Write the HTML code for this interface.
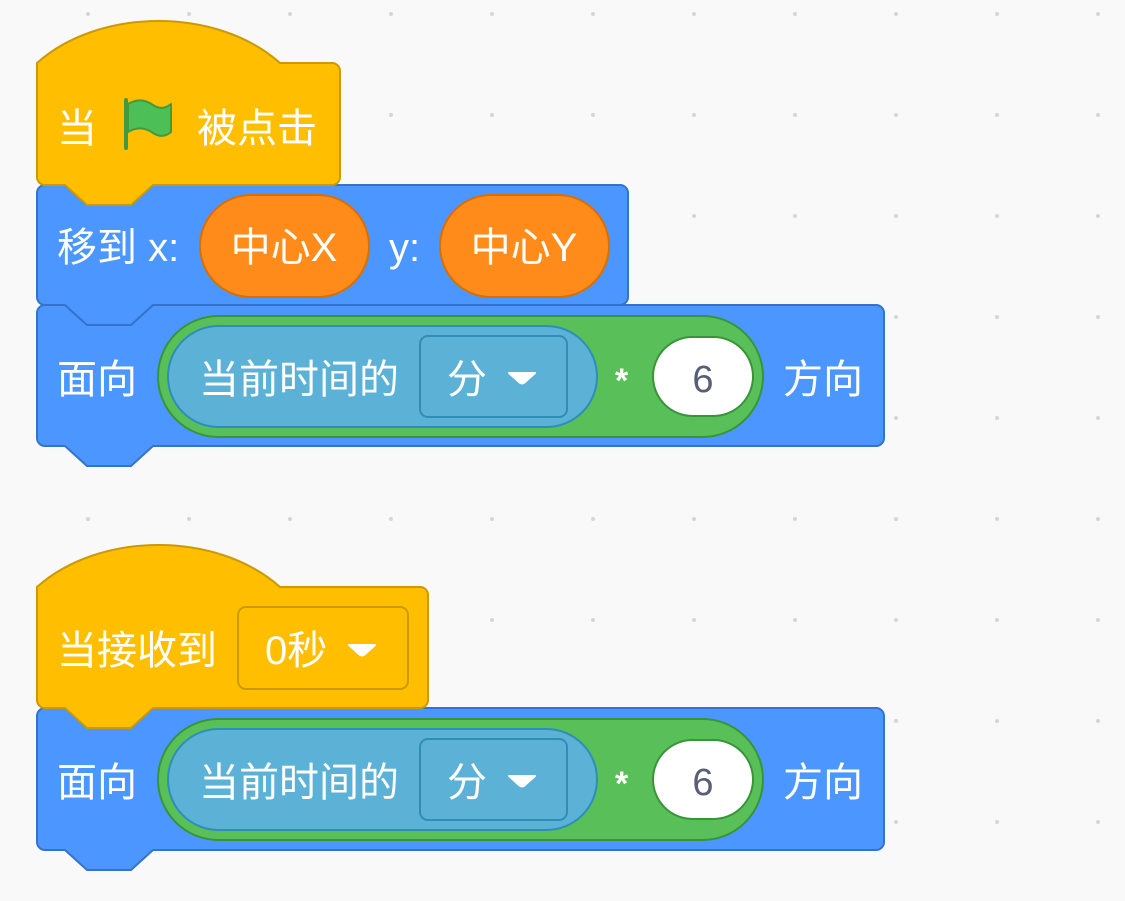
<!DOCTYPE html>
<html><head><meta charset="utf-8"><style>
html,body{margin:0;padding:0;background:#F9F9F9;}
svg{display:block;}
text{font-family:"Liberation Sans","Noto Sans CJK SC",sans-serif;fill:#fff;font-size:40px;}
.ast{font-size:34px;font-weight:bold;}
.num{fill:#575E75;font-size:38px;}
</style></head><body>
<svg width="1125" height="901" viewBox="0 0 1125 901" xmlns="http://www.w3.org/2000/svg">
<defs>
<pattern id="dots" x="0" y="0" width="101" height="101" patternUnits="userSpaceOnUse" patternTransform="translate(88,14)">
<circle cx="0" cy="0" r="2" fill="#D6D6D6"/><circle cx="101" cy="0" r="2" fill="#D6D6D6"/><circle cx="0" cy="101" r="2" fill="#D6D6D6"/><circle cx="101" cy="101" r="2" fill="#D6D6D6"/>
</pattern>
</defs>
<rect width="1125" height="901" fill="#F9F9F9"/>
<rect width="1125" height="901" fill="url(#dots)"/>

<path d="M37,716 a8,8 0 0 1 8,-8 H65 l22,20 h44 l22,-20 H876 a8,8 0 0 1 8,8 V842 a8,8 0 0 1 -8,8 H153 l-22,20 h-44 l-22,-20 H45 a8,8 0 0 1 -8,-8 Z" fill="#4C97FF" stroke="#3373CC" stroke-width="2"/>
<text x="57" y="796">面向</text>
<rect x="158" y="719" width="605" height="121" rx="60.5" fill="#59C059" stroke="#389438" stroke-width="2"/>
<rect x="168" y="729" width="429" height="101" rx="50.5" fill="#5CB1D6" stroke="#2E8EB8" stroke-width="2"/>
<text x="199" y="796">当前时间的</text>
<rect x="420" y="739" width="147" height="81" rx="8" fill="#5CB1D6" stroke="#2E8EB8" stroke-width="2"/>
<text x="447" y="796">分</text>
<path d="M509,776 h26 l-10,9 q-3,3 -6,0 Z" fill="#fff" stroke="#fff" stroke-width="2" stroke-linejoin="round"/>
<text x="615" y="795" class="ast">*</text>
<rect x="653" y="740" width="100" height="79" rx="39.5" fill="#fff" stroke="#389438" stroke-width="2"/>
<text x="703" y="795" text-anchor="middle" class="num">6</text>
<text x="783" y="796">方向</text>

<path d="M37,587 c63,-56 180,-56 243,0 H420 a8,8 0 0 1 8,8 V700 a8,8 0 0 1 -8,8 H153 l-22,20 h-44 l-22,-20 H45 a8,8 0 0 1 -8,-8 Z" fill="#FFBF00" stroke="#CC9900" stroke-width="2"/>
<text x="57" y="664">当接收到</text>
<rect x="238" y="607" width="170" height="82" rx="8" fill="#FFBF00" stroke="#CC9900" stroke-width="2"/>
<text x="265" y="664">0秒</text>
<path d="M349,645 h26 l-10,9 q-3,3 -6,0 Z" fill="#fff" stroke="#fff" stroke-width="2" stroke-linejoin="round"/>

<path d="M37,313 a8,8 0 0 1 8,-8 H65 l22,20 h44 l22,-20 H876 a8,8 0 0 1 8,8 V438 a8,8 0 0 1 -8,8 H153 l-22,20 h-44 l-22,-20 H45 a8,8 0 0 1 -8,-8 Z" fill="#4C97FF" stroke="#3373CC" stroke-width="2"/>
<text x="57" y="393">面向</text>
<rect x="158" y="316" width="605" height="121" rx="60.5" fill="#59C059" stroke="#389438" stroke-width="2"/>
<rect x="168" y="326" width="429" height="101" rx="50.5" fill="#5CB1D6" stroke="#2E8EB8" stroke-width="2"/>
<text x="199" y="393">当前时间的</text>
<rect x="420" y="336" width="147" height="81" rx="8" fill="#5CB1D6" stroke="#2E8EB8" stroke-width="2"/>
<text x="447" y="393">分</text>
<path d="M509,373 h26 l-10,9 q-3,3 -6,0 Z" fill="#fff" stroke="#fff" stroke-width="2" stroke-linejoin="round"/>
<text x="615" y="392" class="ast">*</text>
<rect x="653" y="337" width="100" height="79" rx="39.5" fill="#fff" stroke="#389438" stroke-width="2"/>
<text x="703" y="392" text-anchor="middle" class="num">6</text>
<text x="783" y="393">方向</text>

<path d="M37,193 a8,8 0 0 1 8,-8 H65 l22,20 h44 l22,-20 H620 a8,8 0 0 1 8,8 V297 a8,8 0 0 1 -8,8 H153 l-22,20 h-44 l-22,-20 H45 a8,8 0 0 1 -8,-8 Z" fill="#4C97FF" stroke="#3373CC" stroke-width="2"/>
<text x="57" y="261">移到 x:</text>
<rect x="200" y="195" width="169" height="102" rx="51" fill="#FF8C1A" stroke="#DB6E00" stroke-width="2"/>
<text x="284" y="261" text-anchor="middle">中心X</text>
<text x="389" y="261">y:</text>
<rect x="440" y="195" width="169" height="102" rx="51" fill="#FF8C1A" stroke="#DB6E00" stroke-width="2"/>
<text x="524" y="261" text-anchor="middle">中心Y</text>

<path d="M37,63 c63,-56 180,-56 243,0 H332 a8,8 0 0 1 8,8 V177 a8,8 0 0 1 -8,8 H153 l-22,20 h-44 l-22,-20 H45 a8,8 0 0 1 -8,-8 Z" fill="#FFBF00" stroke="#CC9900" stroke-width="2"/>
<text x="57" y="142">当</text>
<line x1="126" y1="100" x2="126" y2="148" stroke="#45993D" stroke-width="4" stroke-linecap="round"/>
<path d="M128,104 c10,-6 18,-4 25,1 c6,4 12,4 18,-1 V132 c-6,5 -12,5 -18,1 c-7,-5 -15,-7 -25,-1 Z" fill="#4CBF56" stroke="#45993D" stroke-width="2" stroke-linejoin="round"/>
<text x="197" y="142">被点击</text>
</svg>
</body></html>
